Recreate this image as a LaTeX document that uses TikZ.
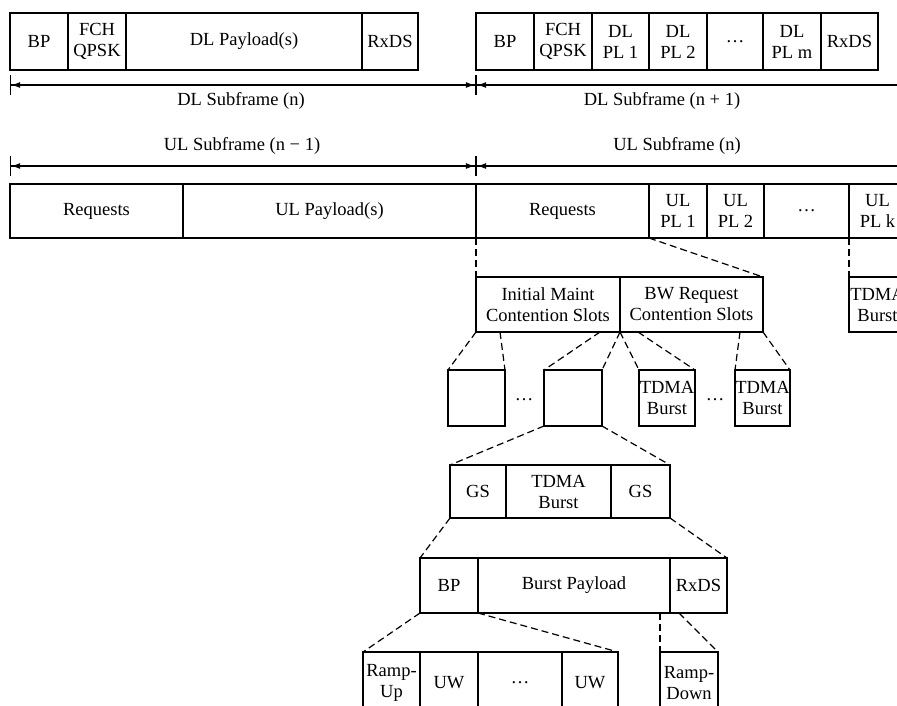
\documentclass[tikz,border=0pt]{standalone}
\usepackage{fontspec}
\setmainfont{Liberation Serif}
\usetikzlibrary{arrows.meta}

\tikzset{
  cell/.style={draw, line width=1.2pt, inner sep=0pt, outer sep=0pt,
    anchor=north west, align=center, font=\fontsize{18.5}{21}\selectfont},
  txt/.style={inner sep=0pt, font=\fontsize{18.5}{21}\selectfont},
  zoomline/.style={line width=1.2pt, dash pattern=on 7pt off 4pt},
  span/.style={line width=1.2pt,
    {Bar[width=20pt]Latex[length=9pt,width=6pt]}-{Latex[length=9pt,width=6pt]Bar[width=20pt]}},
  spanopen/.style={line width=1.2pt, {Bar[width=20pt]Latex[length=9pt,width=6pt]}-}
}

\begin{document}
\begin{tikzpicture}[x=1pt, y=-1pt]

  \useasboundingbox (0,0) rectangle (897,705);
  \clip (0,0) rectangle (897,705);

  % DL subframes (n) and (n + 1)
  \foreach \nm/\xa/\xb/\lbl in {dla/10/68/BP, dlb/68/126/{FCH\\QPSK},
      dlc/126/362/{DL Payload(s)}, dld/362/418/RxDS,
      dle/476/534/BP, dlf/534/592/{FCH\\QPSK}, dlg/592/649/{DL\\PL 1},
      dlh/649/707/{DL\\PL 2}, dli/707/763/\ldots, dlj/763/821/{DL\\PL m},
      dlk/821/878/RxDS} {
    \pgfmathsetmacro{\w}{\xb-\xa}
    \node[cell, minimum width=\w, minimum height=57] (\nm) at (\xa,13) {\lbl};
  }

  % Subframe spans
  \coordinate (dl0) at (10,85);
  \coordinate (dl1) at (476,85);
  \coordinate (dl2) at (910,85);
  \coordinate (ul0) at (10,166);
  \coordinate (ul1) at (476,166);
  \coordinate (ul2) at (910,166);
  \draw[span] (dl0) -- (dl1);
  \draw[spanopen] (dl1) -- (dl2);
  \draw[span] (ul0) -- (ul1);
  \draw[spanopen] (ul1) -- (ul2);
  \node[txt] (dlnlab) at (241,101) {DL Subframe (n)};
  \node[txt] (dlmlab) at (662,101) {DL Subframe (n + 1)};
  \node[txt] (ulnlab) at (242,146) {UL Subframe (n − 1)};
  \node[txt] (ulmlab) at (677,146) {UL Subframe (n)};

  % UL subframes (n - 1) and (n)
  \foreach \nm/\xa/\xb/\lbl in {ula/10/183/Requests, ulb/183/476/{UL Payload(s)},
      ulc/476/649/Requests, uld/649/707/{UL\\PL 1}, ule/707/764/{UL\\PL 2},
      ulf/764/849/\ldots, ulg/849/906/{UL\\PL k}} {
    \pgfmathsetmacro{\w}{\xb-\xa}
    \node[cell, minimum width=\w, minimum height=54] (\nm) at (\xa,184) {\lbl};
  }

  % Contention slots
  \node[cell, minimum width=144, minimum height=55] (cim) at (476,277) {Initial Maint\\Contention Slots};
  \node[cell, minimum width=143, minimum height=55] (cbw) at (620,277) {BW Request\\Contention Slots};
  \node[cell, minimum width=57, minimum height=55] (ctd) at (849,277) {TDMA\\Burst};
  \draw[zoomline] (ulc.south west) -- (cim.north west);
  \draw[zoomline] (ulc.south east) -- (cbw.north east);
  \draw[zoomline] (ulg.south west) -- (ctd.north west);

  % Single slots
  \foreach \nm/\xa/\xb/\lbl in {sla/448/505/{}, slb/544/602/{},
      slc/639/695/{TDMA\\Burst}, sld/735/790/{TDMA\\Burst}} {
    \pgfmathsetmacro{\w}{\xb-\xa}
    \node[cell, minimum width=\w, minimum height=56] (\nm) at (\xa,370) {\lbl};
  }
  \node[txt] (sldots) at (524,400) {\ldots};
  \node[txt] (tddots) at (715,400) {\ldots};
  \coordinate (cima) at (500,332);
  \coordinate (cimb) at (600,332);
  \coordinate (cbwa) at (638,332);
  \coordinate (cbwb) at (740,332);
  \draw[zoomline] (cim.south west) -- (sla.north west);
  \draw[zoomline] (cima) -- (sla.north east);
  \draw[zoomline] (cimb) -- (slb.north west);
  \draw[zoomline] (cim.south east) -- (slb.north east);
  \draw[zoomline] (cbw.south west) -- (slc.north west);
  \draw[zoomline] (cbwa) -- (slc.north east);
  \draw[zoomline] (cbwb) -- (sld.north west);
  \draw[zoomline] (cbw.south east) -- (sld.north east);

  % Guard spaces
  \foreach \nm/\xa/\xb/\lbl in {gsa/450/506/GS, gsb/506/611/{TDMA\\Burst},
      gsc/611/670/GS} {
    \pgfmathsetmacro{\w}{\xb-\xa}
    \node[cell, minimum width=\w, minimum height=53] (\nm) at (\xa,465) {\lbl};
  }
  \draw[zoomline] (slb.south west) -- (gsa.north west);
  \draw[zoomline] (slb.south east) -- (gsc.north east);

  % TDMA burst
  \foreach \nm/\xa/\xb/\lbl in {bpa/420/478/BP, bpb/478/670/{Burst Payload},
      bpc/670/727/RxDS} {
    \pgfmathsetmacro{\w}{\xb-\xa}
    \node[cell, minimum width=\w, minimum height=55] (\nm) at (\xa,558) {\lbl};
  }
  \draw[zoomline] (gsa.south west) -- (bpa.north west);
  \draw[zoomline] (gsc.south east) -- (bpc.north east);

  % Preamble and ramp down
  \foreach \nm/\xa/\xb/\lbl in {bta/363/420/{Ramp-\\Up}, btb/420/478/UW,
      btc/478/562/\ldots, btd/562/618/UW, bte/660/718/{Ramp-\\Down}} {
    \pgfmathsetmacro{\w}{\xb-\xa}
    \node[cell, minimum width=\w, minimum height=62] (\nm) at (\xa,652) {\lbl};
  }
  \coordinate (bpba) at (660,613);
  \coordinate (bpca) at (679,613);
  \draw[zoomline] (bpa.south west) -- (bta.north west);
  \draw[zoomline] (bpa.south east) -- (btd.north east);
  \draw[zoomline] (bpba) -- (bte.north west);
  \draw[zoomline] (bpca) -- (bte.north east);

\end{tikzpicture}
\end{document}
